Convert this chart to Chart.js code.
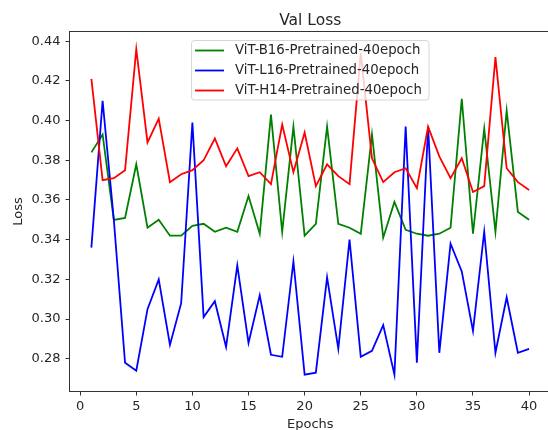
<!DOCTYPE html>
<html>
<head>
<meta charset="utf-8">
<script src="https://cdn.jsdelivr.net/npm/chart.js@4"></script>
<style>
  html, body { margin: 0; padding: 0; background: #fff; overflow: hidden; }
  #wrap { width: 551px; height: 430px; }
</style>
</head>
<body>
<div id="wrap"><canvas id="lossChart" width="551" height="430"></canvas></div>
<script>
// values
const epochs = [1, 2, 3, 4, 5, 6, 7, 8, 9, 10, 11, 12, 13, 14, 15, 16, 17, 18, 19, 20,
  21, 22, 23, 24, 25, 26, 27, 28, 29, 30, 31, 32, 33, 34, 35, 36, 37, 38, 39, 40];

const b16Loss = [0.384, 0.393, 0.350, 0.351, 0.378, 0.346, 0.350, 0.342, 0.342, 0.347,
  0.348, 0.344, 0.346, 0.344, 0.362, 0.343, 0.403, 0.344, 0.397, 0.342,
  0.348, 0.397, 0.348, 0.346, 0.343, 0.393, 0.341, 0.359, 0.345, 0.343,
  0.342, 0.343, 0.346, 0.411, 0.343, 0.396, 0.344, 0.405, 0.354, 0.350];

const l16Loss = [0.336, 0.410, 0.350, 0.278, 0.274, 0.305, 0.320, 0.287, 0.308, 0.399,
  0.301, 0.309, 0.286, 0.327, 0.288, 0.312, 0.282, 0.281, 0.329, 0.272,
  0.273, 0.321, 0.285, 0.340, 0.281, 0.284, 0.297, 0.272, 0.397, 0.278,
  0.397, 0.283, 0.338, 0.324, 0.294, 0.344, 0.283, 0.311, 0.283, 0.285];

const h14Loss = [0.421, 0.370, 0.371, 0.375, 0.436, 0.389, 0.401, 0.369, 0.373, 0.375,
  0.380, 0.391, 0.377, 0.386, 0.372, 0.374, 0.368, 0.398, 0.374, 0.394,
  0.367, 0.378, 0.372, 0.368, 0.434, 0.381, 0.369, 0.374, 0.376, 0.366,
  0.397, 0.382, 0.371, 0.381, 0.364, 0.367, 0.432, 0.376, 0.369, 0.365];

const seriesNames = ["ViT-B16-Pretrained-40epoch", "ViT-L16-Pretrained-40epoch", "ViT-H14-Pretrained-40epoch"];
const seriesColors = ["#008000", "#0000ff", "#ff0000"];

const xTicks = [0, 5, 10, 15, 20, 25, 30, 35, 40];
const yTicks = [0.28, 0.30, 0.32, 0.34, 0.36, 0.38, 0.40, 0.42, 0.44];

const chartTitle = "Val Loss";

const FONT = "'DejaVu Sans', sans-serif";
const INK = "#262626";

const toPoints = arr => arr.map((v, i) => ({x: epochs[i], y: v}));

// frame, title over the axes, legend box like matplotlib
const framePlugin = {
  id: "frame",
  afterDatasetsDraw(chart) {
    const {ctx, chartArea: a} = chart;
    ctx.save();
    ctx.strokeStyle = "#333";
    ctx.lineWidth = 1;
    ctx.strokeRect(a.left, a.top, a.right - a.left, a.bottom - a.top);

    ctx.fillStyle = INK;
    ctx.font = "15.5px " + FONT;
    ctx.textAlign = "center";
    ctx.textBaseline = "alphabetic";
    ctx.fillText(chartTitle, (a.left + a.right) / 2, 24.5);

    // legend
    const bx = 191.5, by = 40.5, bw = 237.5, bh = 59.5, r = 3;
    ctx.beginPath();
    ctx.moveTo(bx + r, by);
    ctx.arcTo(bx + bw, by, bx + bw, by + bh, r);
    ctx.arcTo(bx + bw, by + bh, bx, by + bh, r);
    ctx.arcTo(bx, by + bh, bx, by, r);
    ctx.arcTo(bx, by, bx + bw, by, r);
    ctx.closePath();
    ctx.fillStyle = "rgba(255,255,255,0.8)";
    ctx.fill();
    ctx.strokeStyle = "rgba(204,204,204,0.8)";
    ctx.stroke();

    ctx.font = "13.3px " + FONT;
    ctx.textBaseline = "middle";
    ctx.textAlign = "left";
    seriesNames.forEach((name, i) => {
      const yy = 50.5 + i * 20;
      ctx.strokeStyle = seriesColors[i];
      ctx.lineWidth = 1.8;
      ctx.beginPath();
      ctx.moveTo(195, yy);
      ctx.lineTo(224, yy);
      ctx.stroke();
      ctx.fillStyle = INK;
      ctx.fillText(name, 235, yy + 0.5);
    });
    ctx.restore();
  }
};

const mkSet = (i, data, order) => ({
  label: seriesNames[i],
  data: toPoints(data),
  borderColor: seriesColors[i],
  backgroundColor: seriesColors[i],
  borderWidth: 1.8,
  pointRadius: 0,
  tension: 0,
  fill: false,
  order: order
});

new Chart(document.getElementById("lossChart"), {
  type: "line",
  data: {
    datasets: [mkSet(0, b16Loss, 2), mkSet(1, l16Loss, 1), mkSet(2, h14Loss, 0)]
  },
  options: {
    responsive: false,
    animation: false,
    devicePixelRatio: 1,
    layout: {padding: {left: 0, right: 0, top: 31.5, bottom: 0}},
    plugins: {
      legend: {display: false},
      tooltip: {enabled: false},
      title: {display: false}
    },
    scales: {
      x: {
        type: "linear",
        min: -0.95,
        max: 41.95,
        afterBuildTicks: s => { s.ticks = xTicks.map(v => ({value: v})); },
        afterFit: s => { s.height = 38.5; },
        grid: {drawOnChartArea: false, drawTicks: true, tickLength: 4, color: "#333"},
        border: {display: false},
        ticks: {
          color: INK, padding: 3, maxRotation: 0,
          font: {family: FONT, size: 13},
          callback: v => String(v)
        },
        title: {
          display: true, text: "Epochs", color: INK,
          font: {family: FONT, size: 13},
          padding: {top: 0, bottom: -2}
        }
      },
      y: {
        type: "linear",
        min: 0.2635,
        max: 0.4449,
        afterBuildTicks: s => { s.ticks = yTicks.map(v => ({value: v})); },
        afterFit: s => { s.width = 69.5; },
        grid: {drawOnChartArea: false, drawTicks: true, tickLength: 4, color: "#333"},
        border: {display: false},
        ticks: {
          color: INK, padding: 5,
          font: {family: FONT, size: 13},
          callback: v => Number(v).toFixed(2)
        },
        title: {
          display: true, text: "Loss", color: INK,
          font: {family: FONT, size: 13},
          padding: {top: 11, bottom: 0}
        }
      }
    }
  },
  plugins: [framePlugin]
});
</script>
</body>
</html>
